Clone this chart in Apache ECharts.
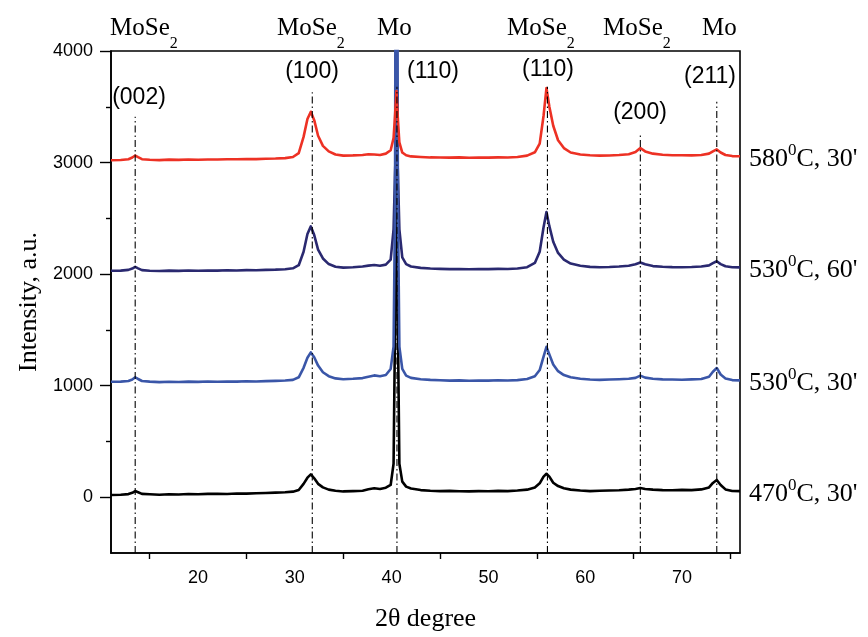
<!DOCTYPE html>
<html>
<head>
<meta charset="utf-8">
<script src="https://cdn.jsdelivr.net/npm/echarts@6/dist/echarts.min.js"></script>
<style>html,body{margin:0;padding:0;background:#fff}#c{width:868px;height:637px}</style>
</head>
<body>
<div id="c"></div>
<script>
// ---- data ----
const twoTheta = [
  11, 12, 12.8, 13.2, 13.5, 13.8, 14.2, 15, 16, 17,
  18, 19, 20, 21, 22, 23, 24, 25, 26, 27,
  28, 29, 29.8, 30.4, 30.9, 31.3, 31.65, 32.0, 32.4, 32.9,
  33.5, 34.2, 35, 36, 37, 37.6, 38.2, 38.8, 39.4, 39.9,
  40.2, 40.35, 40.5, 40.65, 40.8, 41.1, 41.5, 42, 43, 44,
  45, 46, 47, 48, 49, 50, 51, 52, 53, 54,
  54.8, 55.3, 55.7, 56.0, 56.3, 56.7, 57.2, 57.8, 58.5, 59.5,
  60.5, 61.5, 62.5, 63.5, 64.5, 65.2, 65.7, 66.2, 67, 68,
  69, 70, 71, 72, 72.8, 73.2, 73.6, 74.0, 74.5, 75.2,
  76
];
const i470_30 = [
  20, 22, 28, 40, 55, 45, 30, 26, 22, 27,
  25, 29, 27, 30, 31, 29, 34, 32, 36, 38,
  41, 44, 50, 65, 120, 175, 205, 170, 120, 88,
  68, 58, 52, 55, 58, 72, 80, 74, 85, 110,
  300, 1500, 3300, 1500, 300, 140, 95, 78, 64, 58,
  55, 57, 54, 52, 55, 54, 57, 55, 60, 68,
  88, 125, 185, 210, 185, 130, 100, 80, 68, 60,
  55, 58, 60, 63, 68, 74, 82, 74, 68, 64,
  62, 66, 64, 70, 88, 128, 155, 110, 70, 56,
  55
];
const i530_30 = [
  1035, 1036, 1042, 1055, 1075, 1060, 1042, 1036, 1032, 1035,
  1033, 1036, 1034, 1037, 1035, 1038, 1036, 1040, 1038, 1041,
  1043, 1046, 1052, 1075, 1160, 1250, 1298, 1255, 1180, 1120,
  1085, 1065, 1058, 1062, 1068, 1080, 1092, 1085, 1095, 1150,
  1350, 2600, 9000, 2600, 1350, 1150, 1090, 1070, 1058, 1052,
  1048, 1045, 1047, 1044, 1046, 1045, 1048, 1046, 1050, 1060,
  1085, 1140, 1260, 1348, 1280, 1190, 1130, 1095, 1075, 1062,
  1055, 1052, 1055, 1058, 1062, 1070, 1090, 1072, 1062, 1056,
  1055, 1053, 1056, 1060, 1080, 1125, 1158, 1100, 1065, 1050,
  1047
];
const i530_60 = [
  2030, 2031, 2038, 2050, 2065, 2052, 2036, 2030, 2028, 2031,
  2029, 2032, 2030, 2033, 2031, 2034, 2032, 2036, 2035, 2038,
  2040, 2044, 2052, 2080, 2200, 2360, 2428, 2350, 2220, 2140,
  2090, 2066, 2058, 2062, 2068, 2076, 2082, 2075, 2085, 2130,
  2400, 2900, 3300, 2900, 2400, 2150, 2090, 2068, 2056, 2050,
  2047, 2045, 2046, 2044, 2046, 2045, 2047, 2046, 2050, 2062,
  2100, 2200, 2420, 2556, 2430, 2290, 2190, 2130, 2095, 2075,
  2065, 2062, 2064, 2068, 2075, 2088, 2104, 2088, 2072, 2066,
  2063, 2062, 2064, 2068, 2078, 2098, 2115, 2090, 2070, 2062,
  2060
];
const i580_30 = [
  3021, 3023, 3030, 3045, 3063, 3048, 3030, 3025, 3022, 3026,
  3024, 3027, 3025, 3028, 3027, 3030, 3029, 3032, 3031, 3034,
  3036, 3040, 3050, 3085, 3230, 3390, 3455, 3380, 3240, 3150,
  3100, 3072, 3062, 3064, 3068, 3075, 3072, 3068, 3080, 3110,
  3220, 3420, 3640, 3380, 3180, 3090, 3065, 3055, 3050, 3046,
  3045, 3044, 3046, 3043, 3045, 3044, 3046, 3045, 3050, 3062,
  3092, 3170, 3420, 3667, 3500, 3330, 3200, 3130, 3090, 3072,
  3065, 3062, 3063, 3068, 3075, 3095, 3131, 3100, 3080, 3070,
  3066, 3065, 3064, 3068, 3080, 3100, 3118, 3090, 3068, 3058,
  3056
];
// reference (dash-dot) lines: peak positions and their top ends
const refX   = [13.5, 31.8, 40.55, 56.1, 65.7, 73.6];
const refTop = [3410, 3630, 3680, 3680, 3270, 3545];
const hkl    = ['(002)', '(100)', '(110)', '(110)', '(200)', '(211)'];
const phases = [['MoSe', '2'], ['MoSe', '2'], ['Mo', ''], ['MoSe', '2'], ['MoSe', '2'], ['Mo', '']];
const temps  = ['470', '530', '530', '580'];
const times  = ["30'", "30'", "60'", "30'"];
const xTickLabels = [20, 30, 40, 50, 60, 70];
const xMinorTicks = [15, 25, 35, 45, 55, 65, 75];
const yTickLabels = [0, 1000, 2000, 3000, 4000];
const yMinorTicks = [500, 1500, 2500, 3500];

// ---- chart ----
const chart = echarts.init(document.getElementById('c'), null, {renderer: 'canvas'});
const SERIF = 'Liberation Serif, Times New Roman, serif';
const SANS = 'Liberation Sans, Arial, sans-serif';

function curve(name, ys, color, idx, width) {
  return {
    type: 'line', name: name, data: twoTheta.map((x, i) => [x, ys[i]]),
    showSymbol: false, symbol: 'none', clip: true, silent: true, z: 2,
    lineStyle: {color: color, width: width, join: 'round'},
    endLabel: {
      show: true, distance: 9, offset: [0, -1],
      formatter: '{n|' + temps[idx] + '}{p|0}{n|C, ' + times[idx] + '}',
      rich: {
        n: {fontSize: 26, fontFamily: SERIF, color: '#000', lineHeight: 26, verticalAlign: 'top', padding: [4, 0, 0, 0]},
        p: {fontSize: 17, fontFamily: SERIF, color: '#000', lineHeight: 17, verticalAlign: 'top'}
      }
    }
  };
}

const series = [
  curve('470C 30', i470_30, '#000000', 0, 2.6),
  curve('530C 60', i530_60, '#2a2970', 2, 2.6),
  curve('530C 30', i530_30, '#3a56a8', 1, 2.6),
  curve('580C 30', i580_30, '#ed3124', 3, 2.6)
];
refX.forEach((x, i) => {
  series.push({
    type: 'line', data: [[x, -500], [x, refTop[i]]], showSymbol: false, symbol: 'none',
    silent: true, z: 4, clip: true,
    lineStyle: {color: '#000', width: 1.1, type: [7, 3, 1.5, 3]}
  });
});

const graphic = [];
// phase names above the frame
const phasePos = [110, 277, 377, 507, 603, 702];
phases.forEach((p, i) => {
  graphic.push({
    type: 'text', x: phasePos[i], y: 16, silent: true,
    style: {
      text: '{m|' + p[0] + '}' + (p[1] ? '{s|' + p[1] + '}' : ''),
      align: 'left', verticalAlign: 'top',
      rich: {
        m: {fontSize: 25, fontFamily: SERIF, fill: '#000', lineHeight: 25, verticalAlign: 'top'},
        s: {fontSize: 16, fontFamily: SERIF, fill: '#000', lineHeight: 16, verticalAlign: 'top', padding: [20, 0, 0, 0]}
      }
    }
  });
});
// Miller indices
const hklPos = [[139, 98], [312, 72], [433, 72], [548, 70], [640, 113], [710, 77]];
hkl.forEach((t, i) => {
  graphic.push({
    type: 'text', x: hklPos[i][0], y: hklPos[i][1], silent: true,
    style: {text: t, font: '23px ' + SANS, fill: '#000', align: 'center', verticalAlign: 'middle'}
  });
});

chart.setOption({
  animation: false,
  backgroundColor: '#fff',
  grid: {left: 111, right: 128, top: 51, bottom: 82, show: true, borderColor: '#000', borderWidth: 1.6, backgroundColor: 'transparent'},
  xAxis: {
    type: 'value', min: 11, max: 76,
    name: '2θ degree', nameLocation: 'middle', nameGap: 53,
    nameTextStyle: {fontFamily: SERIF, fontSize: 26, color: '#000'},
    axisLine: {show: true, onZero: false, lineStyle: {color: '#000', width: 1.6}},
    axisTick: {show: true, customValues: xMinorTicks, length: 6, inside: false, lineStyle: {color: '#000', width: 1.4}},
    axisLabel: {customValues: xTickLabels, color: '#000', fontSize: 18, fontFamily: SANS, margin: 16, formatter: v => String(v)},
    splitLine: {show: false}, minorTick: {show: false}
  },
  yAxis: [{
    type: 'value', min: -500, max: 4000,
    name: 'Intensity, a.u.', nameLocation: 'middle', nameGap: 68,
    nameTextStyle: {fontFamily: SERIF, fontSize: 26, color: '#000'},
    axisLine: {show: true, onZero: false, lineStyle: {color: '#000', width: 1.6}},
    axisTick: {show: true, customValues: yTickLabels, length: 11, lineStyle: {color: '#000', width: 1.4}},
    axisLabel: {customValues: yTickLabels, color: '#000', fontSize: 18, fontFamily: SANS, margin: 18, formatter: v => String(v)},
    splitLine: {show: false}
  }, {
    type: 'value', min: -500, max: 4000, position: 'left', offset: 0,
    axisLine: {show: false},
    axisTick: {show: true, customValues: yMinorTicks, length: 5, lineStyle: {color: '#000', width: 1.4}},
    axisLabel: {show: false},
    splitLine: {show: false}
  }],
  series: series,
  graphic: graphic
});
</script>
</body>
</html>
